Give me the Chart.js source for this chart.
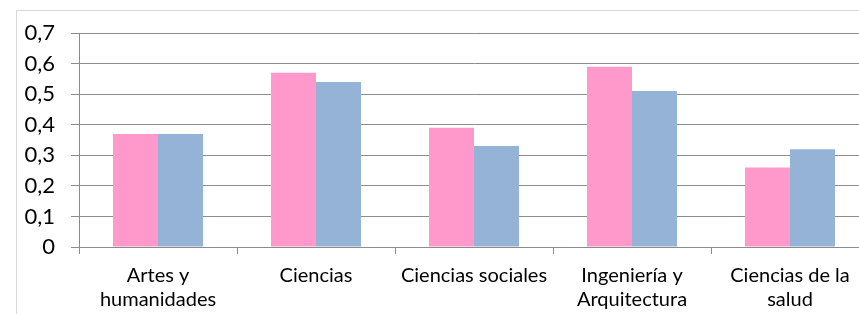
<!DOCTYPE html>
<html>
<head>
<meta charset="utf-8">
<script src="https://cdn.jsdelivr.net/npm/chart.js@4"></script>
<style>
  html, body { margin: 0; padding: 0; background: #fff; overflow: hidden; }
  #frame {
    position: absolute; left: 16px; top: 10px;
    width: 880px; height: 320px;
    border: 1px solid #d9d9d9;
  }
  #wrap { position: absolute; left: 0; top: 0; width: 870px; height: 310px; }
</style>
</head>
<body>
<div id="frame">
  <div id="wrap"><canvas id="chart"></canvas></div>
</div>
<script>
// categorie (etichette su due righe come nell'originale)
const categories = [
    ['Artes y', 'humanidades'],
    ['Ciencias'],
    ['Ciencias sociales'],
    ['Ingeniería y', 'Arquitectura'],
    ['Ciencias de la', 'salud']
];
const pinkValues = [0.37, 0.57, 0.39, 0.59, 0.26];
const blueValues = [0.37, 0.54, 0.33, 0.51, 0.32];
const yMin = 0, yMax = 0.7, yStep = 0.1;

const ctx = document.getElementById('chart');
new Chart(ctx, {
    type: 'bar',
    data: {
        labels: categories,
        datasets: [
            { label: 'Serie 1', data: pinkValues, backgroundColor: '#ff99cc' },
            { label: 'Serie 2', data: blueValues, backgroundColor: '#95b3d7' }
        ]
    },
    options: {
        responsive: true,
        maintainAspectRatio: false,
        animation: false,
        layout: { padding: { top: 22, right: 18, bottom: 0, left: 0 } },
        plugins: { legend: { display: false }, tooltip: { enabled: false } },
        datasets: { bar: { categoryPercentage: 0.57, barPercentage: 1.0 } },
        scales: {
            x: {
                grid: { offset: true, drawOnChartArea: false, drawTicks: true, tickLength: 7, color: '#8c8c8c' },
                border: { color: '#8c8c8c' },
                ticks: { color: '#000', padding: 10, font: { family: 'Lato', size: 20, lineHeight: 1.2 } },
                afterFit: function(scale) { scale.height = 74; }
            },
            y: {
                min: yMin,
                max: yMax,
                grid: { color: '#8c8c8c', tickLength: 8 },
                border: { color: '#8c8c8c' },
                ticks: {
                    stepSize: yStep,
                    color: '#000',
                    padding: 16,
                    font: { family: 'Lato', size: 22 },
                    callback: function(v) {
                        return v === 0 ? '0' : v.toFixed(1).replace('.', ',');
                    }
                },
                afterFit: function(scale) {
                    scale.width = 62;
                    scale.paddingTop = 11;
                    scale.paddingBottom = 11;
                }
            }
        }
    }
});
</script>
</body>
</html>
